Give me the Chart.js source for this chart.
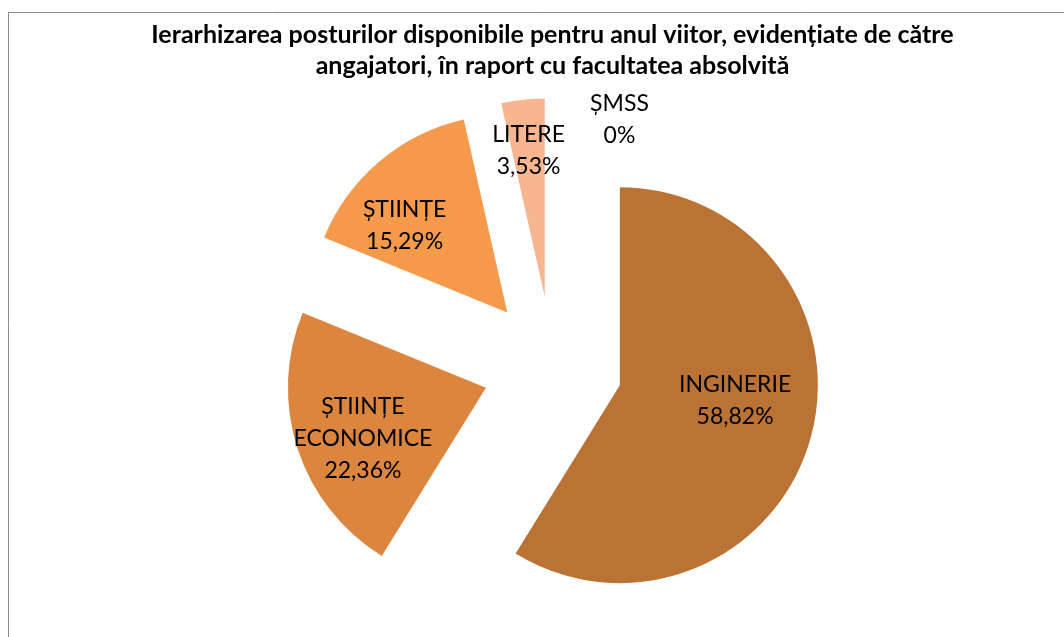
<!DOCTYPE html>
<html>
<head>
<meta charset="utf-8">
<script src="https://cdn.jsdelivr.net/npm/chart.js@4"></script>
<style>
  body { margin: 0; background: #fff; }
  #wrap { position: relative; width: 1064px; height: 637px; }
</style>
</head>
<body>
<div id="wrap"><canvas id="pie"></canvas></div>
<script>
const categories = ['INGINERIE', 'ȘTIINȚE ECONOMICE', 'ȘTIINȚE', 'LITERE', 'ȘMSS'];
const values = [58.82, 22.36, 15.29, 3.53, 0];
const colors = ['#BA7334', '#DB853F', '#F59A4A', '#F8B690', '#FAD5BE'];

// label placement tweaks (px), like excel "best fit"
const labelNudge = [[1, -17], [-10, 14], [-26, 4], [-3, -28], [67, -58]];

const EXPLODE = 70;
const LABEL_K = 0.6;

function fmt(v) {
  return v === 0 ? '0%' : v.toFixed(2).replace('.', ',') + '%';
}

// pull every slice out from the centre along its mid angle
const explodePlugin = {
  id: 'explode',
  afterUpdate(chart) {
    chart.getDatasetMeta(0).data.forEach(arc => {
      const mid = (arc.startAngle + arc.endAngle) / 2;
      arc.x += Math.cos(mid) * EXPLODE;
      arc.y += Math.sin(mid) * EXPLODE;
    });
  }
};

const labelPlugin = {
  id: 'sliceLabels',
  afterDatasetsDraw(chart) {
    const ctx = chart.ctx;
    const data = chart.data.datasets[0].data;
    ctx.save();
    ctx.font = '23px Lato';
    ctx.fillStyle = '#000';
    ctx.textAlign = 'center';
    ctx.textBaseline = 'middle';
    chart.getDatasetMeta(0).data.forEach((arc, i) => {
      const mid = (arc.startAngle + arc.endAngle) / 2;
      const r = arc.outerRadius * LABEL_K;
      const x = arc.x + Math.cos(mid) * r + labelNudge[i][0];
      const y = arc.y + Math.sin(mid) * r + labelNudge[i][1];
      const lines = chart.data.labels[i].split(' ').concat(fmt(data[i]));
      const lh = 32;
      lines.forEach((t, j) => {
        ctx.fillText(t, x, y + (j - (lines.length - 1) / 2) * lh);
      });
    });
    ctx.restore();
  }
};

const framePlugin = {
  id: 'frame',
  beforeDraw(chart) {
    const ctx = chart.ctx;
    ctx.save();
    ctx.strokeStyle = '#8c8c8c';
    ctx.lineWidth = 1;
    ctx.beginPath();
    ctx.moveTo(1064, 12.5);
    ctx.lineTo(8.5, 12.5);
    ctx.lineTo(8.5, 637);
    ctx.stroke();
    ctx.restore();
  }
};

var pie = new Chart(document.getElementById('pie').getContext('2d'),
{
  type: 'pie',
  data: {
    labels: categories,
    datasets: [{
      data: values,
      backgroundColor: colors,
      borderWidth: 0,
      radius: 198
    }]
  },
  options: {
    responsive: true,
    maintainAspectRatio: false,
    animation: false,
    events: [],
    layout: {
      padding: { left: 41, right: 0, top: 0, bottom: 0 }
    },
    plugins: {
      legend: { display: false },
      tooltip: { enabled: false },
      title: {
        display: true,
        text: ['Ierarhizarea posturilor disponibile pentru anul viitor, evidențiate de către',
               'angajatori, în raport cu facultatea absolvită'],
        color: '#000',
        font: { family: 'Lato', size: 25, weight: 'bold', lineHeight: 1.24 },
        padding: { top: 19.5, bottom: 13.5 }
      }
    }
  },
  plugins: [framePlugin, explodePlugin, labelPlugin]
});
</script>
</body>
</html>
